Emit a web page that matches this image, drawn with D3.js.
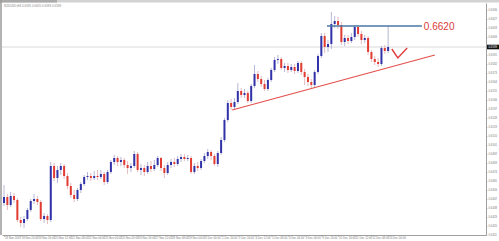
<!DOCTYPE html>
<html>
<head>
<meta charset="utf-8">
<script src="https://cdn.jsdelivr.net/npm/d3@7/dist/d3.min.js"></script>
<style>
  body { margin: 0; background: #fff; }
  svg { display: block; }
</style>
</head>
<body>
<script>
// H4 bars, oldest first
const barOpen = [0.6443,0.6449,0.6441,0.6450,0.6446,0.6426,0.6423,0.6427,0.6436,0.6445,
  0.6447,0.6444,0.6427,0.6430,0.6426,0.6480,0.6468,0.6476,0.6480,0.6470,
  0.6460,0.6451,0.6447,0.6456,0.6462,0.6469,0.6470,0.6468,0.6470,0.6469,
  0.6472,0.6464,0.6474,0.6484,0.6488,0.6484,0.6486,0.6481,0.6478,0.6480,
  0.6492,0.6476,0.6478,0.6474,0.6480,0.6477,0.6481,0.6488,0.6478,0.6473,
  0.6481,0.6484,0.6482,0.6487,0.6489,0.6487,0.6488,0.6474,0.6480,0.6478,
  0.6485,0.6490,0.6494,0.6490,0.6482,0.6493,0.6506,0.6526,0.6543,0.6539,
  0.6544,0.6555,0.6551,0.6553,0.6545,0.6560,0.6572,0.6567,0.6562,0.6557,
  0.6566,0.6576,0.6586,0.6587,0.6578,0.6580,0.6576,0.6579,0.6575,0.6583,
  0.6574,0.6569,0.6564,0.6561,0.6574,0.6590,0.6610,0.6599,0.6602,0.6622,
  0.6625,0.6621,0.6604,0.6608,0.6605,0.6609,0.6619,0.6612,0.6606,0.6608,
  0.6594,0.6587,0.6584,0.6582,0.6598,0.6595];
const barHigh = [0.6461,0.6452,0.6454,0.6453,0.6448,0.6429,0.6430,0.6438,0.6447,0.6452,
  0.6450,0.6446,0.6433,0.6432,0.6484,0.6483,0.6480,0.6483,0.6482,0.6473,
  0.6463,0.6456,0.6458,0.6464,0.6471,0.6474,0.6473,0.6475,0.6476,0.6476,
  0.6474,0.6476,0.6486,0.6491,0.6490,0.6489,0.6488,0.6485,0.6483,0.6495,
  0.6494,0.6482,0.6481,0.6484,0.6485,0.6486,0.6490,0.6489,0.6481,0.6484,
  0.6487,0.6488,0.6490,0.6492,0.6492,0.6491,0.6490,0.6483,0.6484,0.6487,
  0.6493,0.6497,0.6496,0.6492,0.6495,0.6509,0.6528,0.6546,0.6547,0.6548,
  0.6563,0.6558,0.6557,0.6555,0.6562,0.6581,0.6575,0.6570,0.6566,0.6568,
  0.6578,0.6589,0.6591,0.6589,0.6583,0.6583,0.6582,0.6582,0.6585,0.6585,
  0.6577,0.6572,0.6567,0.6576,0.6592,0.6613,0.6613,0.6606,0.6634,0.6630,
  0.6629,0.6624,0.6611,0.6611,0.6613,0.6621,0.6621,0.6615,0.6611,0.6610,
  0.6596,0.6590,0.6588,0.6600,0.6601,0.6620];
const barLow = [0.6440,0.6436,0.6439,0.6443,0.6424,0.6419,0.6418,0.6425,0.6434,0.6442,
  0.6441,0.6425,0.6423,0.6422,0.6424,0.6465,0.6463,0.6471,0.6467,0.6457,
  0.6448,0.6444,0.6445,0.6453,0.6460,0.6466,0.6465,0.6466,0.6466,0.6467,
  0.6461,0.6462,0.6472,0.6481,0.6480,0.6480,0.6478,0.6472,0.6474,0.6478,
  0.6474,0.6471,0.6470,0.6472,0.6474,0.6475,0.6479,0.6475,0.6468,0.6471,
  0.6478,0.6479,0.6480,0.6484,0.6485,0.6485,0.6472,0.6472,0.6475,0.6476,
  0.6483,0.6487,0.6486,0.6480,0.6479,0.6491,0.6504,0.6524,0.6536,0.6537,
  0.6542,0.6548,0.6548,0.6543,0.6543,0.6558,0.6564,0.6559,0.6555,0.6555,
  0.6564,0.6574,0.6582,0.6576,0.6574,0.6573,0.6574,0.6572,0.6573,0.6571,
  0.6561,0.6560,0.6557,0.6558,0.6572,0.6588,0.6593,0.6594,0.6597,0.6618,
  0.6617,0.6601,0.6600,0.6602,0.6603,0.6606,0.6609,0.6602,0.6603,0.6591,
  0.6584,0.6581,0.6579,0.6580,0.6592,0.6593];
const barClose = [0.6449,0.6441,0.6450,0.6446,0.6426,0.6423,0.6427,0.6436,0.6445,0.6447,
  0.6444,0.6427,0.6430,0.6426,0.6480,0.6468,0.6476,0.6480,0.6470,0.6460,
  0.6451,0.6447,0.6456,0.6462,0.6469,0.6470,0.6468,0.6470,0.6469,0.6472,
  0.6464,0.6474,0.6484,0.6488,0.6484,0.6486,0.6481,0.6478,0.6480,0.6492,
  0.6476,0.6478,0.6474,0.6480,0.6477,0.6481,0.6488,0.6478,0.6473,0.6481,
  0.6484,0.6482,0.6487,0.6489,0.6487,0.6488,0.6474,0.6480,0.6478,0.6485,
  0.6490,0.6494,0.6490,0.6482,0.6493,0.6506,0.6526,0.6543,0.6539,0.6544,
  0.6555,0.6551,0.6553,0.6545,0.6560,0.6572,0.6567,0.6562,0.6557,0.6566,
  0.6576,0.6586,0.6587,0.6578,0.6580,0.6576,0.6579,0.6575,0.6583,0.6574,
  0.6569,0.6564,0.6561,0.6574,0.6590,0.6610,0.6599,0.6602,0.6622,0.6625,
  0.6621,0.6604,0.6608,0.6605,0.6609,0.6619,0.6612,0.6606,0.6608,0.6594,
  0.6587,0.6584,0.6582,0.6598,0.6595,0.6599];

// one label every 5 bars
const timeLabels = ["18 Nov 2019","18 Nov 20:00","19 Nov 16:00","20 Nov 12:00","21 Nov 08:00",
  "22 Nov 04:00","25 Nov 00:00","25 Nov 20:00","26 Nov 16:00","27 Nov 12:00","28 Nov 08:00",
  "29 Nov 04:00","2 Dec 00:00","2 Dec 20:00","3 Dec 16:00","4 Dec 12:00","5 Dec 08:00",
  "6 Dec 04:00","9 Dec 00:00","9 Dec 20:00","10 Dec 16:00","11 Dec 12:00","12 Dec 08:00",
  "13 Dec 04:00"];
const priceTicks = [0.6636,0.6627,0.6618,0.6609,0.6591,0.6582,0.6573,0.6564,0.6555,
  0.6546,0.6537,0.6528,0.6519,0.6510,0.6501,0.6492,0.6483,0.6474,0.6465,0.6456,
  0.6447,0.6438,0.6429,0.6420,0.6411];

// drawn annotations: [bar index, price]
const resistance = [[96.7, 0.6620], [125.1, 0.6620]];
const resistanceLabel = "0.6620";
const support = [[68.3, 0.6536], [129.0, 0.6591]];
const checkMark = [[116.1, 0.6597], [117.9, 0.6588], [120.7, 0.6598]];
const symbolTitle = "NZDUSD,H4  0.6595 0.6620 0.6593 0.6599";

const canvWidth = 499, canvHeight = 241;
const plot = {left: 2, right: 486, top: 3, bottom: 235};

const svg = d3.select("body").append("svg")
    .attr("width", canvWidth)
    .attr("height", canvHeight);

const x = d3.scaleLinear().domain([-0.6, 144.3]).range([plot.left, plot.right]);
const y = d3.scaleLinear().domain([0.6411, 0.6643]).range([plot.bottom, plot.top]);

// window frame
svg.append("rect").attr("x", 0).attr("y", 0).attr("width", canvWidth).attr("height", 2.5).attr("fill", "#d2d2d2");
svg.append("rect").attr("x", 0).attr("y", 0).attr("width", 57).attr("height", 2.5).attr("fill", "#aaaaaa");
svg.append("line").attr("x1", 1).attr("x2", 1).attr("y1", 0).attr("y2", plot.bottom)
    .attr("stroke", "#9a9a9a").attr("stroke-width", 1.5);

svg.append("text")
    .attr("x", 4).attr("y", 7)
    .attr("font-family", "Liberation Sans, Arial, sans-serif")
    .attr("font-size", "3px")
    .attr("fill", "#888")
    .text(symbolTitle);

// axes
const small = g => {
  g.selectAll("text").attr("font-family", "Liberation Sans, Arial, sans-serif")
      .attr("font-size", "2.8px").attr("fill", "#7a7a7a");
  g.selectAll("line").attr("stroke", "#999").attr("stroke-width", 0.5);
  g.select(".domain").attr("stroke", "#888").attr("stroke-width", 0.8);
};

const xAxis = d3.axisBottom(x)
    .tickValues(d3.range(0, barClose.length, 5))
    .tickFormat((d, i) => timeLabels[i])
    .tickSize(2).tickSizeOuter(0);
svg.append("g")
    .attr("transform", `translate(0,${plot.bottom})`)
    .call(xAxis)
    .call(small)
    .call(g => g.selectAll("text").attr("text-anchor", "start").attr("x", 0.5).attr("y", 2.2));

const yAxis = d3.axisRight(y)
    .tickValues(priceTicks)
    .tickFormat(d3.format(".4f"))
    .tickSize(1.5).tickSizeOuter(0);
svg.append("g")
    .attr("transform", `translate(${plot.right},0)`)
    .call(yAxis)
    .call(small)
    .call(g => g.selectAll("text").attr("x", 2.5));

// bid line
const lastClose = barClose[barClose.length - 1];
svg.append("line")
    .attr("x1", plot.left).attr("x2", plot.right)
    .attr("y1", y(lastClose)).attr("y2", y(lastClose))
    .attr("stroke", "#cfcfcf").attr("stroke-width", 0.8);
svg.append("rect")
    .attr("x", plot.right + 1).attr("y", y(lastClose) - 2.3)
    .attr("width", 12).attr("height", 4.6)
    .attr("fill", "#111");
svg.append("text")
    .attr("x", plot.right + 2.5).attr("y", y(lastClose) + 1)
    .attr("font-family", "Liberation Sans, Arial, sans-serif")
    .attr("font-size", "2.8px").attr("fill", "#fff")
    .text(d3.format(".4f")(lastClose));

// candles
const bars = barClose.map((c, i) => ({i, o: barOpen[i], h: barHigh[i], l: barLow[i], c}));
const candles = svg.append("g").attr("id", "candles");

candles.selectAll("line")
    .data(bars)
    .enter().append("line")
    .attr("x1", d => x(d.i)).attr("x2", d => x(d.i))
    .attr("y1", d => y(d.h)).attr("y2", d => y(d.l))
    .attr("stroke", d => d.c >= d.o ? "#a4a4cc" : "#dcaab0")
    .attr("stroke-width", 0.8);

candles.selectAll("rect")
    .data(bars)
    .enter().append("rect")
    .attr("x", d => x(d.i) - 1)
    .attr("width", 2)
    .attr("y", d => y(Math.max(d.o, d.c)))
    .attr("height", d => Math.max(0.8, Math.abs(y(d.o) - y(d.c))))
    .attr("fill", d => d.c >= d.o ? "#3232a8" : "#e23b32");

// annotations
const line = d3.line().x(d => x(d[0])).y(d => y(d[1]));

svg.append("path").attr("d", line(support))
    .attr("fill", "none").attr("stroke", "#e2504c").attr("stroke-width", 1.2);

svg.append("path").attr("d", line(resistance))
    .attr("fill", "none").attr("stroke", "#4a78a6").attr("stroke-width", 1.4);

svg.append("path").attr("d", line(checkMark))
    .attr("fill", "none").attr("stroke", "#e03a3a").attr("stroke-width", 1.4)
    .attr("stroke-linejoin", "miter");

svg.append("text")
    .attr("x", x(resistance[1][0]) + 2)
    .attr("y", y(resistance[1][1]) + 3.7)
    .attr("font-family", "Liberation Sans, Arial, sans-serif")
    .attr("font-size", "10px")
    .attr("fill", "#d83b3b")
    .text(resistanceLabel);
</script>
</body>
</html>
